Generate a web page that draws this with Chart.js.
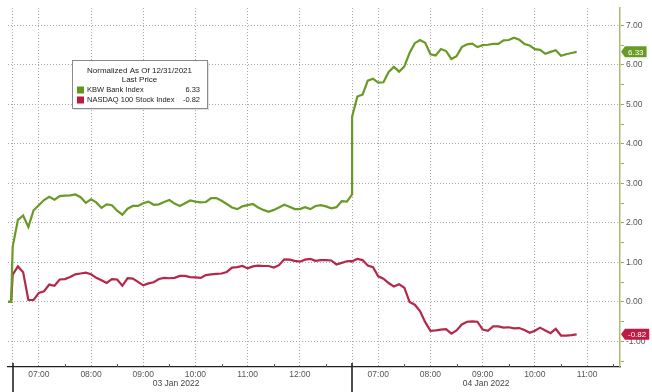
<!DOCTYPE html>
<html><head><meta charset="utf-8">
<script src="https://cdn.jsdelivr.net/npm/chart.js@4"></script>
<style>html,body{margin:0;padding:0;background:#fff;overflow:hidden}</style>
</head><body>
<canvas id="c" width="652" height="392"></canvas>
<script>
// ---------------- DATA ----------------
const seriesNames = ['KBW Bank Index', 'NASDAQ 100 Stock Index'];
const legendTitle = 'Normalized As Of 12/31/2021';
const legendSubtitle = 'Last Price';
const dayLabels = ['03 Jan 2022', '04 Jan 2022'];
const yTickValues = [-1, 0, 1, 2, 3, 4, 5, 6, 7];

// session time in hours since 06:30 on 03 Jan (sessions joined end to end)
const preOpenTimes = [-0.09, -0.03];
const preOpenValues = [0, 0];
const stepHours = 0.1;          // one reading every 6 minutes
const day1Start = 0;            // 06:30, 03 Jan
const day2Start = 6.5;          // 06:30, 04 Jan (after 13:00 close on 03 Jan)

const kbwDay1 = [1.4, 2.08, 2.19, 1.9, 2.32, 2.45, 2.58, 2.66, 2.59, 2.68,
  2.69, 2.70, 2.72, 2.65, 2.51, 2.60, 2.52, 2.38, 2.47, 2.45,
  2.31, 2.21, 2.36, 2.43, 2.43, 2.50, 2.54, 2.46, 2.47, 2.53,
  2.58, 2.49, 2.43, 2.50, 2.57, 2.54, 2.52, 2.53, 2.63, 2.63,
  2.56, 2.48, 2.39, 2.35, 2.42, 2.45, 2.48, 2.39, 2.33, 2.28,
  2.33, 2.39, 2.46, 2.41, 2.35, 2.35, 2.40, 2.35, 2.43, 2.45,
  2.42, 2.37, 2.40, 2.55, 2.54, 2.72];
const kbwDay2 = [4.69, 5.2, 5.25, 5.6, 5.65, 5.55, 5.56, 5.82, 5.95, 5.83,
  5.96, 6.3, 6.55, 6.63, 6.56, 6.27, 6.24, 6.4, 6.35, 6.15,
  6.22, 6.45, 6.52, 6.54, 6.45, 6.5, 6.51, 6.53, 6.53, 6.62,
  6.63, 6.69, 6.64, 6.53, 6.49, 6.4, 6.38, 6.28, 6.33, 6.37,
  6.23, 6.27, 6.3, 6.33];
const ndxDay1 = [0.69, 0.9, 0.75, 0.05, 0.05, 0.23, 0.27, 0.44, 0.41, 0.57,
  0.58, 0.63, 0.70, 0.72, 0.74, 0.70, 0.61, 0.55, 0.48, 0.58,
  0.57, 0.41, 0.60, 0.59, 0.51, 0.42, 0.47, 0.50, 0.58, 0.61,
  0.60, 0.61, 0.66, 0.66, 0.63, 0.62, 0.61, 0.68, 0.70, 0.71,
  0.72, 0.76, 0.87, 0.88, 0.91, 0.85, 0.90, 0.92, 0.91, 0.91,
  0.87, 0.93, 1.08, 1.07, 1.04, 1.02, 1.07, 1.09, 1.04, 1.06,
  1.06, 1.05, 0.95, 0.99, 1.03, 1.04];
const ndxDay2 = [1.03, 1.09, 1.06, 0.92, 0.88, 0.65, 0.59, 0.48, 0.39, 0.45,
  0.36, 0.0, -0.07, -0.23, -0.51, -0.73, -0.72, -0.7, -0.69, -0.8,
  -0.72, -0.57, -0.5, -0.49, -0.5, -0.7, -0.73, -0.62, -0.62, -0.65,
  -0.64, -0.67, -0.66, -0.71, -0.78, -0.73, -0.65, -0.72, -0.79, -0.68,
  -0.85, -0.85, -0.84, -0.82];

// ---------------- BUILD ----------------
function buildPoints(day1, day2) {
  const pts = preOpenTimes.map((t, i) => ({x: t, y: preOpenValues[i]}));
  day1.forEach((v, i) => pts.push({x: day1Start + i * stepHours, y: v}));
  day2.forEach((v, i) => pts.push({x: day2Start + i * stepHours, y: v}));
  return pts;
}
const GREEN = '#6a9a26', RED = '#b3284b';
const FONT = '"Liberation Sans", Arial, sans-serif';
const X_MIN = -0.09, X_MAX = 11.63;

function clockOf(t) { return t < day2Start ? t + 6.5 : t; }
function isHour(t) { const c = clockOf(t); return Math.abs(c - Math.round(c)) < 1e-9 && Math.abs(t - day2Start) > 1e-9; }

const decoPlugin = {
  id: 'deco',
  afterDraw(chart) {
    const ctx = chart.ctx, xs = chart.scales.x, ys = chart.scales.y, ca = chart.chartArea;
    ctx.save();
    // half-hour minor ticks above axis
    ctx.strokeStyle = '#555'; ctx.lineWidth = 1;
    xs.ticks.forEach(tk => {
      const t = tk.value;
      if (!isHour(t) && t !== day1Start && t !== day2Start) {
        const px = Math.round(xs.getPixelForValue(t)) + 0.5;
        ctx.beginPath(); ctx.moveTo(px, ca.bottom - 3); ctx.lineTo(px, ca.bottom); ctx.stroke();
      }
    });
    // session boundary ticks
    ctx.strokeStyle = '#222'; ctx.lineWidth = 1.6;
    [day1Start, day2Start].forEach(t => {
      const px = Math.round(xs.getPixelForValue(t));
      ctx.beginPath(); ctx.moveTo(px, ca.bottom - 4); ctx.lineTo(px, chart.height); ctx.stroke();
    });
    // date labels
    ctx.fillStyle = '#444'; ctx.font = '8.5px ' + FONT; ctx.textAlign = 'center'; ctx.textBaseline = 'middle';
    const spans = [[X_MIN, day2Start], [day2Start, X_MAX]];
    spans.forEach((s, i) => {
      ctx.fillText(dayLabels[i], xs.getPixelForValue((s[0] + s[1]) / 2) - (i === 0 ? 4 : 0), ca.bottom + 17);
    });
    // last value tags
    const lasts = [[kbwDay2[kbwDay2.length - 1], GREEN], [ndxDay2[ndxDay2.length - 1], '#c01a44']];
    ctx.font = '8px ' + FONT;
    lasts.forEach(([v, col]) => {
      const y = ys.getPixelForValue(v), x = ys.left + 1;
      const txt = v.toFixed(2), tw = ctx.measureText(txt).width;
      const h = 11, a = 4, w = tw + 6;
      ctx.fillStyle = col;
      ctx.beginPath(); ctx.moveTo(x, y); ctx.lineTo(x + a, y - h / 2); ctx.lineTo(x + a + w, y - h / 2);
      ctx.lineTo(x + a + w, y + h / 2); ctx.lineTo(x + a, y + h / 2); ctx.closePath(); ctx.fill();
      ctx.fillStyle = '#fff'; ctx.textAlign = 'left'; ctx.textBaseline = 'middle';
      ctx.fillText(txt, x + a + 3, y + 0.5);
    });
    // legend box
    const bx = 72, by = 60, bw = 135, bh = 48;
    ctx.fillStyle = 'rgba(0,0,0,0.12)'; ctx.fillRect(bx + 2, by + 2, bw, bh);
    ctx.fillStyle = '#fff'; ctx.fillRect(bx, by, bw, bh);
    ctx.strokeStyle = '#8a8a8a'; ctx.lineWidth = 1; ctx.strokeRect(bx + 0.5, by + 0.5, bw, bh);
    ctx.fillStyle = '#222'; ctx.font = '8px ' + FONT; ctx.textAlign = 'center'; ctx.textBaseline = 'middle';
    ctx.fillText(legendTitle, bx + bw / 2, by + 10.5);
    ctx.fillText(legendSubtitle, bx + bw / 2, by + 20);
    ctx.font = '7.5px ' + FONT;
    const rows = [[seriesNames[0], kbwDay2[kbwDay2.length - 1], '#5e9a18'], [seriesNames[1], ndxDay2[ndxDay2.length - 1], '#c0183c']];
    rows.forEach(([name, v, col], i) => {
      const ry = by + 30 + i * 10;
      ctx.fillStyle = col; ctx.fillRect(bx + 5, ry - 3.5, 7, 7);
      ctx.fillStyle = '#222'; ctx.textAlign = 'left'; ctx.fillText(name, bx + 15, ry);
      ctx.textAlign = 'right'; ctx.fillText(v.toFixed(2), bx + bw - 7, ry);
    });
    ctx.restore();
  }
};

new Chart(document.getElementById('c'), {
  type: 'line',
  data: {
    datasets: [
      {label: seriesNames[0], data: buildPoints(kbwDay1, kbwDay2), borderColor: GREEN, borderWidth: 2.2, pointRadius: 0, tension: 0, fill: false},
      {label: seriesNames[1], data: buildPoints(ndxDay1, ndxDay2), borderColor: RED, borderWidth: 2.2, pointRadius: 0, tension: 0, fill: false}
    ]
  },
  options: {
    responsive: false, animation: false, devicePixelRatio: 1,
    layout: {padding: {left: 8, top: 8, right: 0, bottom: 0}},
    plugins: {legend: {display: false}, tooltip: {enabled: false}},
    scales: {
      x: {
        type: 'linear', min: X_MIN, max: X_MAX,
        afterFit(s) { s.height = 25; },
        afterBuildTicks(s) {
          const arr = [];
          for (let i = 0; i * 0.5 <= X_MAX; i++) arr.push({value: i * 0.5});
          s.ticks = arr;
        },
        grid: {
          drawTicks: false,
          color: c => (c.tick && (isHour(c.tick.value) || c.tick.value === day1Start || c.tick.value === day2Start)) ? '#a8a8a8' : 'rgba(0,0,0,0)',
          lineWidth: 1
        },
        border: {color: '#222', width: 1.3, dash: [1, 2]},
        ticks: {
          autoSkip: false, maxRotation: 0, padding: 3, color: '#555', font: {family: FONT, size: 8.5},
          callback: v => isHour(v) ? String(Math.round(clockOf(v))).padStart(2, '0') + ':00' : ''
        }
      },
      y: {
        position: 'right', min: -1.646, max: 7.44,
        afterFit(s) { s.width = 32; },
        afterBuildTicks(s) {
          const arr = [];
          for (let v = -1.5; v <= 7; v += 0.5) arr.push({value: v});
          s.ticks = arr;
        },
        grid: {
          drawTicks: true, tickLength: 4, tickColor: '#9ab155',
          color: c => (c.tick && yTickValues.includes(c.tick.value)) ? '#a8a8a8' : 'rgba(0,0,0,0)',
          lineWidth: 1
        },
        border: {color: '#a9bb6e', width: 1.5, dash: [1, 2]},
        ticks: {
          autoSkip: false, padding: 2, color: '#555', font: {family: FONT, size: 8.5},
          callback: v => yTickValues.includes(v) ? v.toFixed(2) : ''
        }
      }
    }
  },
  plugins: [decoPlugin]
});
</script>
</body></html>
